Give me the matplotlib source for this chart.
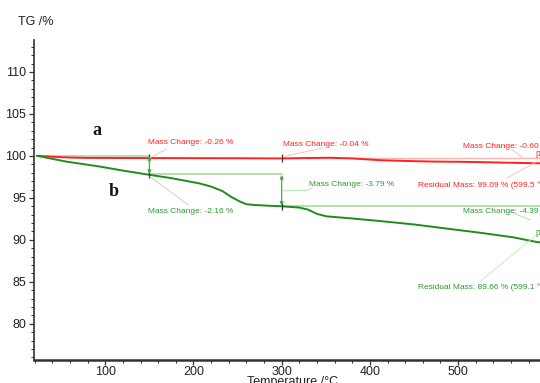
import matplotlib
matplotlib.use("Agg")
import matplotlib.pyplot as plt
from matplotlib.ticker import MultipleLocator

# ---- data ----
temp_a = [23, 40, 60, 80, 150, 200, 250, 300, 330, 355, 380, 410, 440, 470, 500, 530, 560, 593]
tg_a = [100.0, 99.9, 99.8, 99.76, 99.74, 99.73, 99.72, 99.70, 99.75, 99.78, 99.7, 99.5,
        99.4, 99.33, 99.3, 99.25, 99.18, 99.12]

temp_b = [23, 56, 94, 120, 147, 175, 207, 220, 233, 243, 253, 260, 270, 285, 300, 320, 330,
          340, 351, 365, 380, 411, 449, 487, 525, 563, 589, 593]
tg_b = [100.0, 99.32, 98.73, 98.25, 97.8, 97.35, 96.72, 96.35, 95.8, 95.1, 94.55, 94.25,
        94.15, 94.07, 94.0, 93.85, 93.6, 93.1, 92.8, 92.68, 92.55, 92.25, 91.85, 91.35,
        90.85, 90.3, 89.75, 89.7]

steps_a = [23, 150, 300, 593]
levels_a = [100.0, 99.74, 99.70, 99.10]
steps_b = [23, 150, 300, 593]
levels_b = [100.0, 97.84, 94.05, 89.66]

labels_a = ["Mass Change: -0.26 %", "Mass Change: -0.04 %", "Mass Change: -0.60 %",
            "Residual Mass: 99.09 % (599.5 °C)"]
labels_b = ["Mass Change: -2.16 %", "Mass Change: -3.79 %", "Mass Change: -4.39 %",
            "Residual Mass: 89.66 % (599.1 °C)"]

RED = "#ff2222"
GREEN = "#1e8c1e"
TGREEN = "#2e9a2e"
LGREEN = "#a8dca8"
LRED = "#ffb4b4"

fig = plt.figure(figsize=(5.40, 3.83), dpi=100)
ax = fig.add_axes([34 / 540, 23 / 383, 1 - 34 / 540, (360 - 40) / 383])
ax.set_xlim(19.2, 592.9)
ax.set_ylim(75.7, 113.8)

# baselines
ax.plot([steps_b[0], steps_b[1]], [levels_b[0], levels_b[0]], color=LGREEN, lw=1.2)
ax.plot([steps_b[1], steps_b[2]], [levels_b[1], levels_b[1]], color=LGREEN, lw=1.2)
ax.plot([steps_b[2], 600], [levels_b[2], levels_b[2]], color=LGREEN, lw=1.2)
ax.plot([steps_a[2], 600], [levels_a[2], levels_a[2]], color=LRED, lw=1.0)

# curves
ax.plot(temp_a, tg_a, color=RED, lw=1.4)
ax.plot(temp_b, tg_b, color=GREEN, lw=1.4)

# double arrows
for x, y0, y1 in [(steps_b[1], levels_b[0], levels_b[1]), (steps_b[2], 97.74, levels_b[2])]:
    ax.annotate("", xy=(x, y1), xytext=(x, y0),
                arrowprops=dict(arrowstyle="<|-|>", color="#40b040", lw=0.9,
                                mutation_scale=5, shrinkA=0, shrinkB=0))

# markers
ax.plot([steps_a[1], steps_a[2]], [levels_a[1], levels_a[2]], ls="none", marker="|",
        color="#333333", ms=6, mew=0.9)
ax.plot([steps_b[1], steps_b[2]], [levels_b[1], levels_b[2]], ls="none", marker="|",
        color="#333333", ms=6, mew=0.9)

# leader lines
def px(x, y):
    return 100 + (x - 105.3) / 0.882, 100 - (y - 156) / 8.4

def leader(pts, color):
    xs, ys = zip(*[px(*p) for p in pts])
    ax.plot(xs, ys, color=color, lw=0.6)

leader([(148.3, 159), (166.7, 149)], LRED)
leader([(283.3, 156.7), (323, 148)], LRED)
leader([(523, 158), (511.7, 149.3)], LRED)
leader([(536.7, 161.7), (506.7, 178.3)], LRED)
leader([(150, 176.7), (188.3, 205)], "#c8c8c8")
leader([(283, 191), (307, 190.5), (312, 188)], LGREEN)
leader([(530, 220), (510, 211.7)], LGREEN)
leader([(536.7, 235), (480, 281.7)], "#c8e4c8")

fs = 6.0
def lab(x, y, s, c):
    tx, ty = px(x, y)
    ax.text(tx, ty, s, color=c, fontsize=fs, family="Liberation Sans",
            ha="left", va="center", clip_on=False)

lab(148.4, 143, labels_a[0], RED)
lab(283, 145, labels_a[1], RED)
lab(462.7, 147, labels_a[2], RED)
lab(418.3, 185, labels_a[3], RED)
lab(148.3, 212, labels_b[0], TGREEN)
lab(309.3, 184.5, labels_b[1], TGREEN)
lab(462.7, 212, labels_b[2], TGREEN)
lab(417.7, 287.3, labels_b[3], TGREEN)
lab(535, 155, "[1]", RED)
lab(535, 234, "[1]", TGREEN)

# letters
ax.text(*px(97, 131), "a", fontsize=13, fontweight="bold", family="Liberation Serif",
        color="#111122", ha="center", va="center")
ax.text(*px(114, 192), "b", fontsize=13, fontweight="bold", family="Liberation Serif",
        color="#111122", ha="center", va="center")

# axes styling
for s in ["top", "right"]:
    ax.spines[s].set_visible(False)
ax.spines["left"].set_color("#333333")
ax.spines["left"].set_linewidth(1.2)
ax.spines["bottom"].set_color("#333333")
ax.spines["bottom"].set_linewidth(1.8)

ax.xaxis.set_major_locator(MultipleLocator(100))
ax.xaxis.set_minor_locator(MultipleLocator(20))
ax.yaxis.set_major_locator(MultipleLocator(5))
ax.yaxis.set_minor_locator(MultipleLocator(1))
ax.set_yticks([80, 85, 90, 95, 100, 105, 110])
ax.tick_params(axis="both", which="major", direction="out", length=3.5, width=0.9,
               color="#333333", labelsize=9, pad=2)
ax.tick_params(axis="x", which="major", pad=1)
ax.tick_params(axis="both", which="minor", direction="out", length=2, width=0.7,
               color="#333333")
for t in ax.get_xticklabels() + ax.get_yticklabels():
    t.set_family("Liberation Sans")
    t.set_color("#222222")

fig.text(18 / 540, 1 - 22 / 383, "TG /%", fontsize=9, family="Liberation Sans",
         color="#222222", ha="left", va="center")
fig.text(293 / 540, 1 - 376 / 383, "Temperature /°C", fontsize=9, family="Liberation Sans",
         color="#222222", ha="center", va="top")

fig.savefig("out.png", dpi=100)
